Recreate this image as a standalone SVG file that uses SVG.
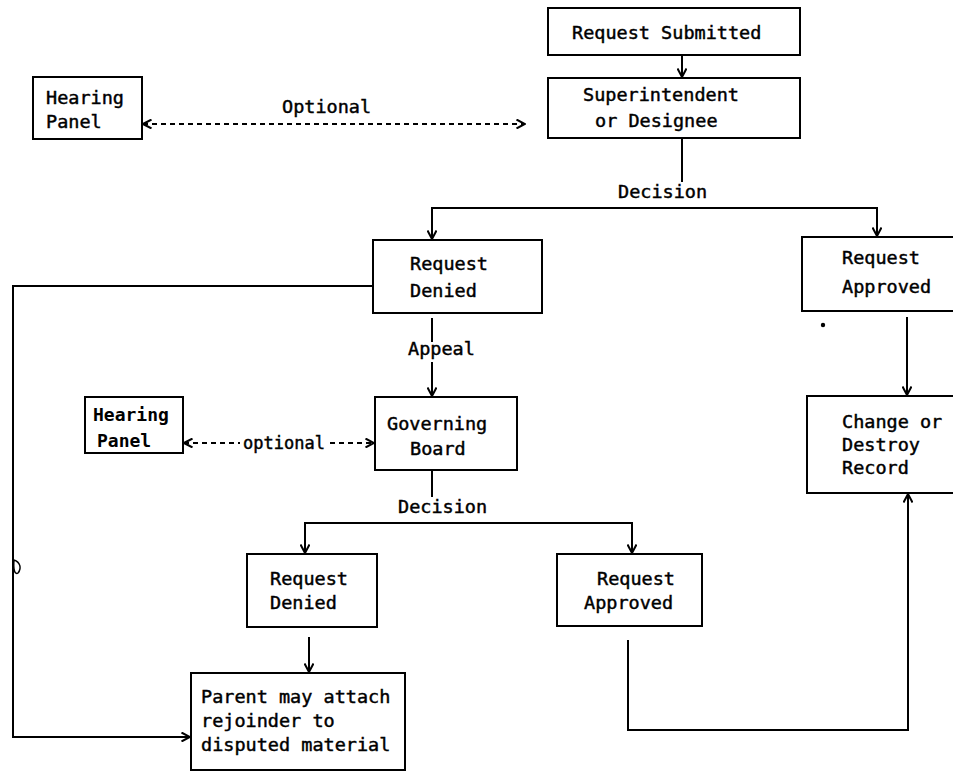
<svg xmlns="http://www.w3.org/2000/svg" width="953" height="773" viewBox="0 0 953 773">
<defs>
<style>
.box{fill:#fff;stroke:#000;stroke-width:2}
.t{font-family:"DejaVu Sans Mono","Liberation Mono",monospace;font-size:18.5px;fill:#000;stroke:#000;stroke-width:0.45}
.tb{font-family:"DejaVu Sans Mono","Liberation Mono",monospace;font-size:18px;font-weight:bold;fill:#000}
.ln{fill:none;stroke:#000;stroke-width:2}
.dash{fill:none;stroke:#000;stroke-width:2;stroke-dasharray:5 4}
</style>
<marker id="ah" viewBox="0 0 10 10" refX="9.5" refY="5" markerWidth="10" markerHeight="10" markerUnits="userSpaceOnUse" orient="auto-start-reverse">
<path d="M1,0.5 L9.5,5 L1,9.5" fill="none" stroke="#000" stroke-width="2"/>
</marker>
</defs>
<rect width="953" height="773" fill="#fff"/>

<g id="connectors">
<line class="ln" x1="682" y1="55" x2="682" y2="77" marker-end="url(#ah)"/>
<line class="dash" x1="143" y1="124" x2="525" y2="124" marker-start="url(#ah)" marker-end="url(#ah)"/>
<line class="ln" x1="682" y1="139" x2="682" y2="182"/>
<polyline class="ln" points="432,239 432,208 877,208 877,236" marker-start="url(#ah)" marker-end="url(#ah)"/>
<polyline class="ln" points="373,286 13,286 13,737 190,737" marker-end="url(#ah)"/>
<line class="ln" x1="432" y1="318" x2="432" y2="342"/>
<line class="ln" x1="432" y1="362" x2="432" y2="396" marker-end="url(#ah)"/>
<line class="ln" x1="907" y1="317" x2="907" y2="395" marker-end="url(#ah)"/>
<line class="dash" x1="184" y1="443" x2="240" y2="443" marker-start="url(#ah)"/>
<line class="dash" x1="330" y1="443" x2="374" y2="443" marker-end="url(#ah)"/>
<line class="ln" x1="432" y1="470" x2="432" y2="497"/>
<polyline class="ln" points="305,553 305,523 632,523 632,553" marker-start="url(#ah)" marker-end="url(#ah)"/>
<line class="ln" x1="309" y1="637" x2="309" y2="672" marker-end="url(#ah)"/>
<polyline class="ln" points="628,640 628,730 908,730 908,494" marker-end="url(#ah)"/>
<text class="t" x="618" y="198">Decision</text>
<text class="t" x="408" y="355">Appeal</text>
<text class="t" x="398" y="513">Decision</text>
<text class="t" x="282" y="113">Optional</text>
<text class="t" x="243" y="449" style="font-size:17px">optional</text>
</g>

<g id="marks">
<circle cx="823" cy="325" r="2.2" fill="#000"/>
<path d="M14,560 C20,562 22,568 18,573 C15,575 13,570 14,560" fill="none" stroke="#000" stroke-width="1.5"/>
</g>

<g id="request-submitted">
<rect class="box" x="548" y="8" width="252" height="47"/>
<text class="t" x="572" y="39">Request Submitted</text>
</g>

<g id="superintendent">
<rect class="box" x="548" y="78" width="252" height="60"/>
<text class="t" x="583" y="101">Superintendent</text>
<text class="t" x="595" y="127">or Designee</text>
</g>

<g id="hearing-panel-1">
<rect class="box" x="33" y="77" width="109" height="62"/>
<text class="t" x="46" y="104">Hearing</text>
<text class="t" x="46" y="128">Panel</text>
</g>

<g id="request-denied-1">
<rect class="box" x="373" y="240" width="169" height="73"/>
<text class="t" x="410" y="270">Request</text>
<text class="t" x="410" y="297">Denied</text>
</g>

<g id="request-approved-1">
<rect class="box" x="802" y="237" width="160" height="74"/>
<text class="t" x="842" y="264">Request</text>
<text class="t" x="842" y="293">Approved</text>
</g>

<g id="hearing-panel-2">
<rect class="box" x="85" y="397" width="98" height="56"/>
<text class="tb" x="93" y="421">Hearing</text>
<text class="tb" x="97" y="447">Panel</text>
</g>

<g id="governing-board">
<rect class="box" x="375" y="397" width="142" height="73"/>
<text class="t" x="387" y="430">Governing</text>
<text class="t" x="410" y="455">Board</text>
</g>

<g id="change-or-destroy">
<rect class="box" x="807" y="396" width="155" height="97"/>
<text class="t" x="842" y="428">Change or</text>
<text class="t" x="842" y="451">Destroy</text>
<text class="t" x="842" y="474">Record</text>
</g>

<g id="request-denied-2">
<rect class="box" x="247" y="554" width="130" height="73"/>
<text class="t" x="270" y="585">Request</text>
<text class="t" x="270" y="609">Denied</text>
</g>

<g id="request-approved-2">
<rect class="box" x="557" y="554" width="145" height="72"/>
<text class="t" x="597" y="585">Request</text>
<text class="t" x="584" y="609">Approved</text>
</g>

<g id="parent-rejoinder">
<rect class="box" x="191" y="673" width="214" height="97"/>
<text class="t" x="201" y="703">Parent may attach</text>
<text class="t" x="201" y="727">rejoinder to</text>
<text class="t" x="201" y="751">disputed material</text>
</g>
</svg>
